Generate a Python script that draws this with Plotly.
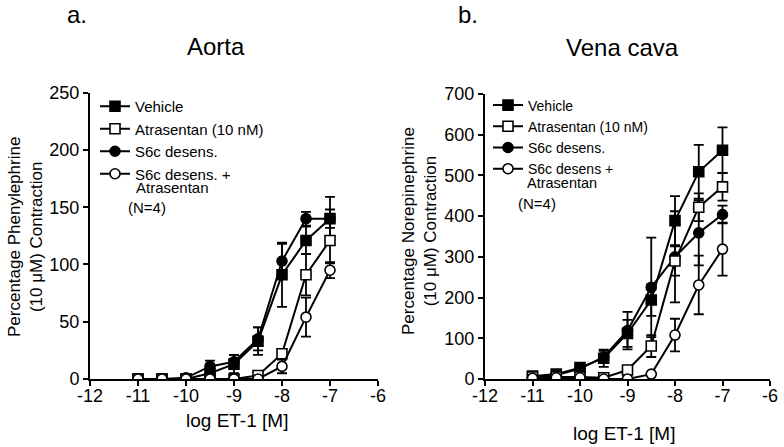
import plotly.graph_objects as go

W, H = 784, 447
FONT = "Liberation Sans, Arial, sans-serif"

log_et1 = [-11, -10.5, -10, -9.5, -9, -8.5, -8, -7.5, -7]

# Aorta (Percentage Phenylephrine contraction)
aorta_vehicle = [0, 0, 0, 5, 13, 33, 91, 121, 140]
aorta_vehicle_err = [0, 0, 0, 3, 8, 12, 28, 12, 19]
aorta_atras = [0, 0, 0, 0, 0, 3, 22, 91, 121]
aorta_atras_err = [0, 0, 0, 0, 0, 1, 3, 18, 20]
aorta_s6c = [0, 0, 1, 11, 15, 35, 103, 140, 140]
aorta_s6c_err = [0, 0, 0, 5, 6, 10, 15, 6, 8]
aorta_s6c_atras = [0, 0, 0, 0, 0, 0, 11, 54, 95]
aorta_s6c_atras_err = [0, 0, 0, 0, 0, 0, 6, 17, 7]

# Vena cava (Percentage Norepinephrine contraction)
vc_vehicle = [7, 12, 28, 51, 112, 194, 389, 509, 562]
vc_vehicle_err = [3, 4, 6, 21, 33, 39, 60, 66, 56]
vc_atras = [5, 5, 5, 3, 22, 81, 290, 422, 472]
vc_atras_err = [0, 0, 0, 0, 5, 27, 36, 34, 34]
vc_s6c = [4, 10, 25, 54, 119, 225, 300, 359, 404]
vc_s6c_err = [2, 3, 5, 15, 46, 122, 112, 80, 22]
vc_s6c_atras = [2, 3, 3, 0, 0, 12, 108, 231, 319]
vc_s6c_atras_err = [0, 0, 0, 0, 0, 3, 40, 72, 65]

x_tickvals = [-12, -11, -10, -9, -8, -7, -6]
x_ticktext = ["-12", "-11", "-10", "-9", "-8", "-7", "-6"]

left_names = ["Vehicle", "Atrasentan (10 nM)", "S6c desens.", "S6c desens. +"]
right_names = ["Vehicle", "Atrasentan (10 nM)", "S6c desens.", "S6c desens +"]

def px(x):
    return x / W

def py(y):
    return 1 - y / H

styles = [
    dict(symbol="square", color="black"),
    dict(symbol="square", color="white"),
    dict(symbol="circle", color="black"),
    dict(symbol="circle", color="white"),
]

fig = go.Figure()

def add_panel(series, errs, names, xa, ya, legend):
    order = [0, 2, 1, 3]
    for i in order:
        st = styles[i]
        fig.add_trace(go.Scatter(
            x=log_et1, y=series[i], mode="lines+markers", name=names[i],
            xaxis=xa, yaxis=ya, legend=legend, legendrank=i + 1,
            line=dict(color="black", width=2),
            marker=dict(symbol=st["symbol"], size=10, color=st["color"],
                        line=dict(color="black", width=1.6)),
            error_y=dict(type="data", array=errs[i], visible=True,
                         color="black", thickness=1.8, width=5),
        ))

add_panel([aorta_vehicle, aorta_atras, aorta_s6c, aorta_s6c_atras],
          [aorta_vehicle_err, aorta_atras_err, aorta_s6c_err, aorta_s6c_atras_err],
          left_names, "x", "y", "legend")
add_panel([vc_vehicle, vc_atras, vc_s6c, vc_s6c_atras],
          [vc_vehicle_err, vc_atras_err, vc_s6c_err, vc_s6c_atras_err],
          right_names, "x2", "y2", "legend2")

axis_common = dict(showline=True, linecolor="black", linewidth=2, ticks="outside",
                   ticklen=5, tickwidth=2, tickcolor="black", showgrid=False,
                   zeroline=False, automargin=False,
                   tickfont=dict(family=FONT, size=18, color="black"))

fig.update_layout(
    template="none",
    width=W, height=H, margin=dict(l=0, r=0, t=0, b=0, pad=0, autoexpand=False),
    paper_bgcolor="white", plot_bgcolor="white",
    font=dict(family=FONT, color="black"),
    xaxis=dict(domain=[px(90), px(378)], range=[-12, -6], tickvals=x_tickvals,
               ticktext=x_ticktext, anchor="y", ticklabelstandoff=-6, **axis_common),
    yaxis=dict(domain=[py(379), py(92.7)], range=[0, 250], dtick=50, anchor="x",
               **axis_common),
    xaxis2=dict(domain=[px(485), px(770)], range=[-12, -6], tickvals=x_tickvals,
                ticktext=x_ticktext, anchor="y2", ticklabelstandoff=-6, **axis_common),
    yaxis2=dict(domain=[py(379), py(94)], range=[0, 700], dtick=100, anchor="x2",
                **axis_common),
    legend=dict(x=px(95), y=py(90), xanchor="left", yanchor="top", valign="top",
                bgcolor="rgba(0,0,0,0)", borderwidth=0,
                font=dict(family=FONT, size=15, color="black"),
                itemwidth=30, tracegroupgap=0),
    legend2=dict(x=px(488), y=py(89.5), xanchor="left", yanchor="top", valign="top",
                 bgcolor="rgba(0,0,0,0)", borderwidth=0,
                 font=dict(family=FONT, size=14, color="black"),
                 itemwidth=30, tracegroupgap=0),
    showlegend=True,
)

def ann(text, x, y, size, xanchor="center", yanchor="middle", angle=0):
    fig.add_annotation(text=text, x=px(x), y=py(y), xref="paper", yref="paper",
                       showarrow=False, xanchor=xanchor, yanchor=yanchor,
                       textangle=angle, font=dict(family=FONT, size=size, color="black"))

ann("a.", 77, 14, 24)
ann("b.", 468, 14, 24)
ann("Aorta", 216, 46, 24)
ann("Vena cava", 622, 48, 24)
ann("Atrasentan", 134, 187, 15, xanchor="left")
ann("Atrasentan", 525, 183, 14.5, xanchor="left")
ann("(N=4)", 126, 208, 15, xanchor="left")
ann("(N=4)", 516, 203, 15, xanchor="left")
ann("log ET-1 [M]", 237, 420, 19)
ann("log ET-1 [M]", 624, 433, 19)
ann("Percentage Phenylephrine<br>(10 μM) Contraction", 25, 237, 17, angle=-90)
ann("Percentage Norepinephrine<br>(10 μM) Contraction", 419, 231, 17, angle=-90)

fig.write_html("out.html", config={"displayModeBar": False},
               post_script="document.body.style.margin='0';")
